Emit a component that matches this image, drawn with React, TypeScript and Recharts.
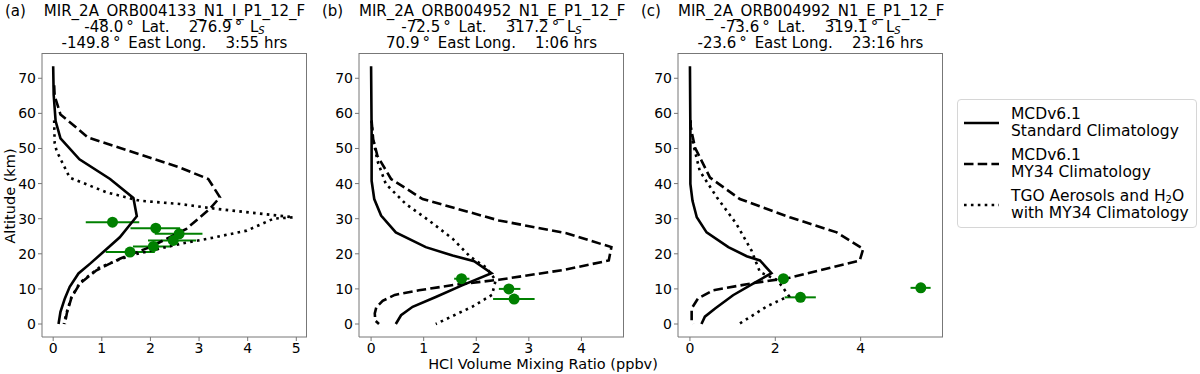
import React from "react";
import { ScatterChart, Scatter, XAxis, YAxis, ErrorBar } from "recharts";

// profiles: [HCl ppbv, altitude km]
const stdA = [[0, 73.4], [0.01, 65.3], [0.05, 57.8], [0.15, 52.9], [0.54, 46.9], [1.17, 41.3], [1.65, 35.9], [1.72, 30.7], [1.37, 24.7], [1.03, 20.5], [0.76, 17.2], [0.52, 14.4], [0.34, 10.6], [0.24, 7.3], [0.15, 3.5], [0.11, 0]];
const my34A = [[0.02, 68], [0.03, 65], [0.15, 59.7], [0.72, 53.1], [2.6, 44.6], [3.19, 41.3], [3.43, 36.1], [3.22, 32.8], [2.74, 27.1], [1.99, 21.9], [1.37, 18.6], [0.89, 15.3], [0.55, 11.5], [0.38, 7.7], [0.28, 3.0], [0.24, 0]];
const tgoA = [[0.02, 58], [0.03, 51.6], [0.07, 49.3], [0.34, 41.7], [1.1, 37.5], [1.78, 35.1], [2.6, 34.2], [3.36, 32.8], [4.94, 30.4], [4.53, 30], [3.98, 26.6], [3.29, 24.6], [2.67, 23], [1.58, 19.5], [0.96, 16.2], [0.55, 11.8], [0.37, 7.5], [0.27, 3.0], [0.22, 0]];
const obsA = [[1.22, 29.0, 0.67, 1.77], [2.11, 27.3, 1.59, 2.61], [2.59, 25.7, 2.09, 3.07], [2.47, 23.8, 1.95, 2.94], [2.06, 22.1, 1.64, 2.42], [1.58, 20.5, 1.08, 2.09]];

const stdB = [[0, 73.4], [0.01, 55], [0.01, 40.8], [0.06, 35.6], [0.19, 30.9], [0.47, 26.1], [1.04, 21.9], [1.55, 19.5], [1.96, 17.9], [2.29, 14.5], [1.73, 11.0], [1.23, 7.7], [0.79, 4.9], [0.57, 2.5], [0.47, 0]];
const my34B = [[0.01, 57.8], [0.04, 52.6], [0.12, 47.9], [0.38, 41.3], [0.98, 35.6], [2.43, 29.5], [3.7, 25.9], [4.57, 21.9], [4.52, 18.1], [3.7, 15.5], [2.43, 12.6], [1.6, 11.2], [0.91, 9.6], [0.45, 8.3], [0.22, 6.6], [0.1, 4.8], [0.07, 3.0], [0.08, 1.0], [0.15, 0]];
const tgoB = [[0.01, 58], [0.03, 53.5], [0.12, 46.5], [0.28, 39.9], [0.66, 34.2], [1.1, 29.5], [1.55, 24.3], [1.89, 19.1], [2.18, 16.2], [2.37, 12.5], [2.3, 8.3], [1.92, 4.9], [1.23, 0]];
const obsB = [[1.72, 12.9, 1.58, 1.87], [2.62, 10.0, 2.43, 2.84], [2.72, 7.1, 2.32, 3.11]];

const stdC = [[0, 73.4], [0.01, 55], [0.01, 39.9], [0.06, 35.1], [0.16, 30.4], [0.39, 26.1], [0.9, 21.9], [1.33, 19.3], [1.64, 18.1], [1.91, 14.5], [1.48, 11.5], [1.01, 8.2], [0.59, 4.4], [0.35, 2.1], [0.27, 0]];
const my34C = [[0.01, 58], [0.02, 55.9], [0.12, 50.2], [0.47, 41.7], [1.17, 35.6], [2.34, 30.4], [3.44, 26.1], [4.06, 21.4], [3.98, 18.1], [2.34, 13.2], [1.41, 11.5], [0.55, 9.6], [0.19, 7.3], [0.04, 4.4], [0.04, 0.7], [0.08, 0]];
const tgoC = [[0.01, 58], [0.04, 53.1], [0.23, 43.6], [0.63, 36.1], [1.09, 28.5], [1.44, 21.0], [1.64, 14.8], [2.05, 12.5], [2.32, 8.0], [1.8, 5.0], [1.15, 0]];
const obsC = [[2.19, 12.9, 2.1, 2.3], [2.59, 7.6, 2.22, 2.95], [5.41, 10.3, 5.17, 5.64]];

const altTicks = [0, 10, 20, 30, 40, 50, 60, 70];

const panels = [
  { tag: "(a)", orbit: "MIR_2A_ORB004133_N1_I_P1_12_F", lat: "-48.0", ls: "276.9", lon: "-149.8", time: "3:55", left: 0, xDomain: [-0.23, 5.22], xTicks: [0, 1, 2, 3, 4, 5], std: stdA, my34: my34A, tgo: tgoA, obs: obsA },
  { tag: "(b)", orbit: "MIR_2A_ORB004952_N1_E_P1_12_F", lat: "-72.5", ls: "317.2", lon: "70.9", time: "1:06", left: 317, xDomain: [-0.23, 4.81], xTicks: [0, 1, 2, 3, 4], std: stdB, my34: my34B, tgo: tgoB, obs: obsB },
  { tag: "(c)", orbit: "MIR_2A_ORB004992_N1_E_P1_12_F", lat: "-73.6", ls: "319.1", lon: "-23.6", time: "23:16", left: 636, xDomain: [-0.28, 5.93], xTicks: [0, 2, 4], std: stdC, my34: my34C, tgo: tgoC, obs: obsC },
];

const FONT = "'DejaVu Sans', sans-serif";
const GREEN = "#008000";
const toPts = (arr: number[][]) => arr.map(([x, alt]) => ({ x, alt }));

const subStyle: React.CSSProperties = { fontSize: 10, position: "relative", top: 2, lineHeight: 0 };

function Panel({ p }: { p: any }) {
  const obs = p.obs.map(([x, alt, lo, hi]: number[]) => ({ x, alt, err: [x - lo, hi - x] }));
  const none = () => <g />;
  const tick = { fontSize: 14, fill: "#000", fontFamily: FONT };
  return (
    <div style={{ position: "absolute", left: p.left, top: 0 }}>
      <ScatterChart width={310} height={374} margin={{ top: 53, right: 3, bottom: 0, left: 0 }}>
        <XAxis type="number" dataKey="x" domain={p.xDomain} ticks={p.xTicks} height={37} tickSize={4} tick={tick} stroke="#777" tickLine={{ stroke: "#777" }} />
        <YAxis type="number" dataKey="alt" domain={[-3.7, 77.2]} ticks={altTicks} width={42} tickSize={4} tick={tick} stroke="#777" tickLine={{ stroke: "#777" }} />
        <Scatter data={toPts(p.std)} line={{ stroke: "#000", strokeWidth: 2.6 }} shape={none} isAnimationActive={false} />
        <Scatter data={toPts(p.my34)} line={{ stroke: "#000", strokeWidth: 2.6, strokeDasharray: "9.5 4.2" }} shape={none} isAnimationActive={false} />
        <Scatter data={toPts(p.tgo)} line={{ stroke: "#000", strokeWidth: 2.6, strokeDasharray: "2.6 4.3" }} shape={none} isAnimationActive={false} />
        <Scatter data={obs} isAnimationActive={false} shape={(s: any) => <circle cx={s.cx} cy={s.cy} r={5.5} fill={GREEN} />}>
          <ErrorBar dataKey="err" direction="x" width={0} stroke={GREEN} strokeWidth={2} />
        </Scatter>
      </ScatterChart>
      {/* top and right spines */}
      <div style={{ position: "absolute", left: 42, top: 53, width: 265, height: 284, borderTop: "1px solid #777", borderRight: "1px solid #777", boxSizing: "border-box", pointerEvents: "none" }} />
      <div style={{ position: "absolute", left: 5, top: 3, fontSize: 15, lineHeight: "16px", fontFamily: FONT, whiteSpace: "pre" }}>{p.tag}</div>
      <div style={{ position: "absolute", left: 42, width: 265, top: 3, fontSize: 15, lineHeight: "16px", fontFamily: FONT, textAlign: "center", whiteSpace: "pre" }}>
        <div>{p.orbit}</div>
        <div>{p.lat}{"\u2009°\u2009 Lat.    "}{p.ls}{"\u2009°\u2009 L"}<span style={{ ...subStyle, fontStyle: "italic" }}>S</span></div>
        <div>{p.lon}{"\u2009°\u2009 East Long.    "}{p.time} hrs</div>
      </div>
    </div>
  );
}

function LegendBox() {
  const item = (dash: string | undefined, l1: React.ReactNode, l2: string, top: number) => (
    <div style={{ position: "absolute", left: 0, top }}>
      <svg width={50} height={34} style={{ position: "absolute", left: 0, top: 0 }}>
        <line x1={6} x2={41} y1={17} y2={17} stroke="#000" strokeWidth={2.6} strokeDasharray={dash} />
      </svg>
      <div style={{ position: "absolute", left: 53, top: 0, fontSize: 15.5, lineHeight: "17px", whiteSpace: "pre" }}>
        <div>{l1}</div>
        <div>{l2}</div>
      </div>
    </div>
  );
  return (
    <div style={{ position: "absolute", left: 957, top: 99, width: 240, height: 129, border: "1px solid #d6d6d6", borderRadius: 4, boxSizing: "border-box", fontFamily: FONT, background: "#fff" }}>
      {item(undefined, "MCDv6.1", "Standard Climatology", 6)}
      {item("9.5 4.2", "MCDv6.1", "MY34 Climatology", 47)}
      {item("2.6 4.3", <span>TGO Aerosols and H<span style={subStyle}>2</span>O</span>, "with MY34 Climatology", 88)}
    </div>
  );
}

export default function App() {
  return (
    <div style={{ position: "absolute", left: 0, top: 0, width: 1200, height: 374, background: "#fff", overflow: "hidden", fontFamily: FONT }}>
      {panels.map((p) => (
        <Panel key={p.tag} p={p} />
      ))}
      <div style={{ position: "absolute", left: 10, top: 196, transform: "translate(-50%, -50%) rotate(-90deg)", fontSize: 14.5, whiteSpace: "nowrap" }}>Altitude (km)</div>
      <div style={{ position: "absolute", left: 543, top: 364, transform: "translate(-50%, -50%)", fontSize: 14.5, whiteSpace: "nowrap" }}>HCl Volume Mixing Ratio (ppbv)</div>
      <LegendBox />
    </div>
  );
}
